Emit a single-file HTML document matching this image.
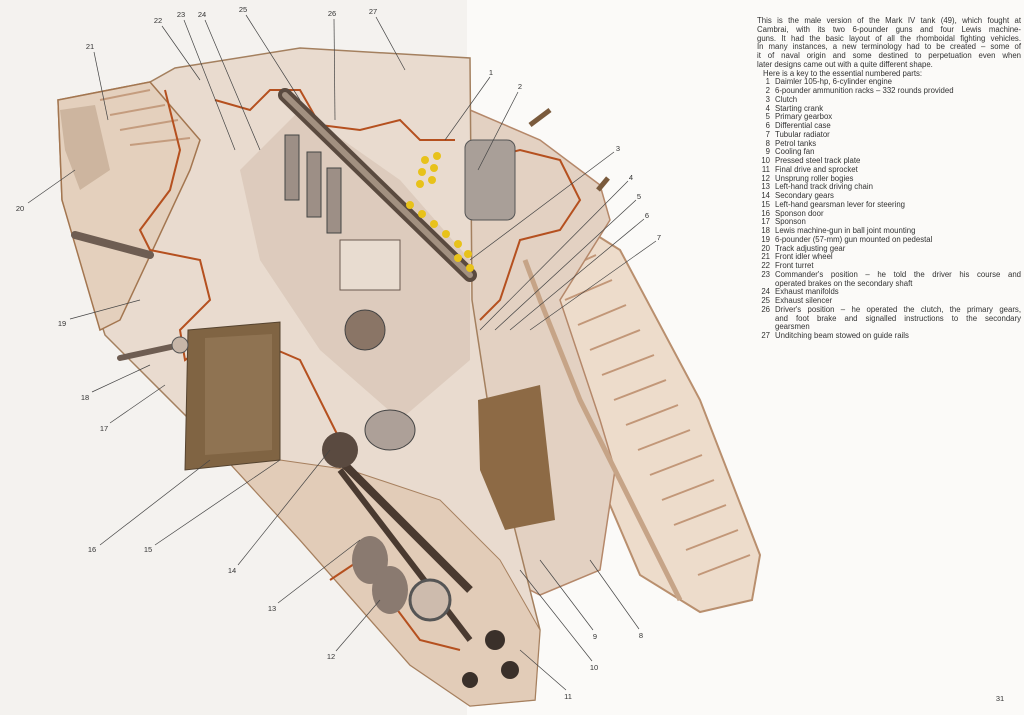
<!DOCTYPE html>
<html><head><meta charset="utf-8"><style>
html,body{margin:0;padding:0;width:1024px;height:715px;overflow:hidden;background:#f7f5f2;}
.page{position:absolute;top:0;width:1024px;height:715px;}
svg{position:absolute;left:0;top:0;}
.txt{position:absolute;left:757px;top:17px;width:264px;font-family:"Liberation Sans",sans-serif;font-size:7.8px;line-height:8.75px;color:#333;white-space:nowrap;}
.j{text-align:justify;text-align-last:justify;}
.k{display:flex;}
.k span:first-child{width:13px;text-align:right;margin-right:5px;flex:none;}
.k span:last-child{flex:1;}
</style></head><body>
<div class="page" style="left:0;width:467px;background:#f4f2ef"></div>
<div class="page" style="left:467px;width:557px;background:#fbfaf8"></div>
<svg width="1024" height="715" viewBox="0 0 1024 715" font-family="Liberation Sans, sans-serif" font-size="7.5" fill="#333">
<polygon points="522,232 560,212 620,250 700,400 760,555 752,600 700,612 640,575 595,470 555,340" fill="#eddccb" stroke="#b98f6e" stroke-width="2"/>
<g stroke="#b07a55" stroke-width="2" opacity=".7">
<line x1="540" y1="250" x2="580" y2="232"/><line x1="552" y1="275" x2="596" y2="255"/><line x1="565" y1="300" x2="612" y2="280"/>
<line x1="578" y1="325" x2="626" y2="305"/><line x1="590" y1="350" x2="640" y2="330"/><line x1="602" y1="375" x2="654" y2="355"/>
<line x1="614" y1="400" x2="666" y2="380"/><line x1="626" y1="425" x2="678" y2="405"/><line x1="638" y1="450" x2="690" y2="430"/>
<line x1="650" y1="475" x2="702" y2="455"/><line x1="662" y1="500" x2="714" y2="480"/><line x1="674" y1="525" x2="726" y2="505"/>
<line x1="686" y1="550" x2="738" y2="530"/><line x1="698" y1="575" x2="750" y2="555"/>
</g>
<polygon points="470,110 540,140 600,185 610,220 560,300 600,420 615,470 600,570 540,595 470,560" fill="#e3d1c2" stroke="#b5886a" stroke-width="1.5"/>
<polygon points="380,70 470,60 470,100 400,100" fill="#d8b89a"/>
<polygon points="58,100 150,82 175,68 300,48 470,58 472,300 495,450 540,630 535,700 470,706 410,665 300,540 190,420 105,335 62,200" fill="#e9dbcf" stroke="#a4805f" stroke-width="1.5"/>
<polygon points="58,100 150,82 200,140 190,170 120,320 100,330 62,200" fill="#e4d0bd" stroke="#a37650" stroke-width="1.5"/>
<polygon points="60,110 95,105 110,170 80,190 65,150" fill="#cdb59f"/>
<g stroke="#b07a55" stroke-width="2" opacity=".6">
<line x1="100" y1="100" x2="150" y2="90"/><line x1="110" y1="115" x2="165" y2="105"/><line x1="120" y1="130" x2="178" y2="120"/><line x1="130" y1="145" x2="190" y2="138"/>
</g>
<polygon points="190,420 300,540 410,665 470,706 535,700 540,630 500,560 440,500 350,470 280,460 200,400" fill="#e2ccb8" stroke="#a7805f" stroke-width="1"/>
<polyline points="165,90 180,150 170,190 140,230 150,250 200,260 210,300 180,330 185,360 230,330 300,360 330,420 350,460" fill="none" stroke="#b5501f" stroke-width="2"/>
<polyline points="215,100 250,110 270,90 300,90 320,125 360,130 400,120 420,140 455,140" fill="none" stroke="#b5501f" stroke-width="2"/>
<polyline points="480,160 520,150 560,160 580,200 560,230 520,240 500,300 480,320" fill="none" stroke="#b5501f" stroke-width="2"/>
<polyline points="330,580 360,560 390,600 420,640 460,650" fill="none" stroke="#b5501f" stroke-width="2"/>
<polygon points="240,170 300,110 400,180 470,260 470,360 400,420 320,350 260,260" fill="#d9c7b8" opacity=".8"/>
<line x1="285" y1="95" x2="470" y2="275" stroke="#5a4a3f" stroke-width="14" stroke-linecap="round"/>
<line x1="285" y1="95" x2="470" y2="275" stroke="#a29080" stroke-width="6" stroke-linecap="round"/>
<rect x="285" y="135" width="14" height="65" fill="#9d8f86" stroke="#444"/>
<rect x="307" y="152" width="14" height="65" fill="#9d8f86" stroke="#444"/>
<rect x="327" y="168" width="14" height="65" fill="#9d8f86" stroke="#444"/>
<rect x="340" y="240" width="60" height="50" fill="#e8dcd0" stroke="#6a5a4f"/>
<circle cx="365" cy="330" r="20" fill="#8a7566" stroke="#444"/>
<rect x="465" y="140" width="50" height="80" rx="8" fill="#a99f98" stroke="#555"/>
<g fill="#e8c21a">
<circle cx="425" cy="160" r="4"/><circle cx="437" cy="156" r="4"/><circle cx="422" cy="172" r="4"/><circle cx="434" cy="168" r="4"/><circle cx="420" cy="184" r="4"/><circle cx="432" cy="180" r="4"/>
<circle cx="410" cy="205" r="4"/><circle cx="422" cy="214" r="4"/><circle cx="434" cy="224" r="4"/><circle cx="446" cy="234" r="4"/><circle cx="458" cy="244" r="4"/><circle cx="468" cy="254" r="4"/><circle cx="458" cy="258" r="4"/><circle cx="470" cy="268" r="4"/>
</g>
<line x1="330" y1="450" x2="470" y2="590" stroke="#4a3a30" stroke-width="8"/>
<line x1="340" y1="470" x2="470" y2="640" stroke="#4a3a30" stroke-width="6"/>
<circle cx="340" cy="450" r="18" fill="#5a4a40"/>
<circle cx="430" cy="600" r="20" fill="#cdbbad" stroke="#555" stroke-width="3"/>
<ellipse cx="390" cy="430" rx="25" ry="20" fill="#ada098" stroke="#444"/>
<ellipse cx="370" cy="560" rx="18" ry="24" fill="#8a7a70"/><ellipse cx="390" cy="590" rx="18" ry="24" fill="#8a7a70"/>
<circle cx="495" cy="640" r="10" fill="#3a302a"/><circle cx="510" cy="670" r="9" fill="#3a302a"/><circle cx="470" cy="680" r="8" fill="#3a302a"/>
<polygon points="188,330 280,322 280,460 185,470" fill="#806443" stroke="#55432f"/>
<polygon points="205,338 272,334 272,450 205,455" fill="#8f7352"/>
<polygon points="478,400 540,385 555,520 505,530 480,470" fill="#8d6a45"/>
<line x1="75" y1="235" x2="150" y2="255" stroke="#6e5d52" stroke-width="8" stroke-linecap="round"/>
<line x1="120" y1="358" x2="180" y2="345" stroke="#6e5d52" stroke-width="6" stroke-linecap="round"/>
<circle cx="180" cy="345" r="8" fill="#c7b6a8" stroke="#555"/>
<line x1="530" y1="125" x2="550" y2="110" stroke="#7a5a3c" stroke-width="5"/>
<line x1="598" y1="190" x2="608" y2="178" stroke="#7a5a3c" stroke-width="5"/>
<polyline points="525,260 540,300 580,400 600,440 650,540 680,600" fill="none" stroke="#c6a487" stroke-width="5"/>
<g stroke="#444" stroke-width=".7" fill="none">
<line x1="94" y1="52" x2="108" y2="120"/><line x1="162" y1="26" x2="200" y2="80"/><line x1="184" y1="20" x2="235" y2="150"/><line x1="205" y1="20" x2="260" y2="150"/>
<line x1="246" y1="15" x2="300" y2="100"/><line x1="334" y1="19" x2="335" y2="120"/><line x1="376" y1="17" x2="405" y2="70"/>
<line x1="490" y1="77" x2="445" y2="140"/><line x1="518" y1="92" x2="478" y2="170"/><line x1="614" y1="152" x2="470" y2="260"/>
<line x1="628" y1="181" x2="480" y2="330"/><line x1="636" y1="200" x2="495" y2="330"/><line x1="644" y1="219" x2="510" y2="330"/><line x1="656" y1="241" x2="530" y2="330"/>
<line x1="28" y1="203" x2="75" y2="170"/><line x1="70" y1="319" x2="140" y2="300"/><line x1="92" y1="392" x2="150" y2="365"/><line x1="110" y1="423" x2="165" y2="385"/>
<line x1="100" y1="545" x2="210" y2="460"/><line x1="155" y1="545" x2="280" y2="460"/><line x1="238" y1="565" x2="330" y2="450"/><line x1="278" y1="603" x2="360" y2="540"/>
<line x1="336" y1="651" x2="380" y2="600"/><line x1="566" y1="690" x2="520" y2="650"/><line x1="592" y1="661" x2="520" y2="570"/><line x1="593" y1="630" x2="540" y2="560"/><line x1="639" y1="629" x2="590" y2="560"/>
</g>
<g text-anchor="middle">
<text x="90" y="49">21</text><text x="158" y="23">22</text><text x="181" y="17">23</text><text x="202" y="17">24</text><text x="243" y="12">25</text><text x="332" y="16">26</text><text x="373" y="14">27</text>
<text x="491" y="75">1</text><text x="520" y="89">2</text><text x="618" y="151">3</text><text x="631" y="180">4</text><text x="639" y="199">5</text><text x="647" y="218">6</text><text x="659" y="240">7</text>
<text x="20" y="211">20</text><text x="62" y="326">19</text><text x="85" y="400">18</text><text x="104" y="431">17</text><text x="92" y="552">16</text><text x="148" y="552">15</text><text x="232" y="573">14</text><text x="272" y="611">13</text><text x="331" y="659">12</text>
<text x="568" y="699">11</text><text x="594" y="670">10</text><text x="595" y="639">9</text><text x="641" y="638">8</text><text x="1000" y="701">31</text>
</g>
</svg>
<div class="txt">
<div class="j">This is the male version of the Mark IV tank (49), which fought at</div>
<div class="j">Cambrai, with its two 6-pounder guns and four Lewis machine-</div>
<div class="j">guns. It had the basic layout of all the rhomboidal fighting vehicles.</div>
<div class="j">In many instances, a new terminology had to be created – some of</div>
<div class="j">it of naval origin and some destined to perpetuation even when</div>
<div>later designs came out with a quite different shape.</div>
<div style="padding-left:6px">Here is a key to the essential numbered parts:</div>
<div class="k"><span>1</span><span>Daimler 105-hp, 6-cylinder engine</span></div>
<div class="k"><span>2</span><span>6-pounder ammunition racks – 332 rounds provided</span></div>
<div class="k"><span>3</span><span>Clutch</span></div>
<div class="k"><span>4</span><span>Starting crank</span></div>
<div class="k"><span>5</span><span>Primary gearbox</span></div>
<div class="k"><span>6</span><span>Differential case</span></div>
<div class="k"><span>7</span><span>Tubular radiator</span></div>
<div class="k"><span>8</span><span>Petrol tanks</span></div>
<div class="k"><span>9</span><span>Cooling fan</span></div>
<div class="k"><span>10</span><span>Pressed steel track plate</span></div>
<div class="k"><span>11</span><span>Final drive and sprocket</span></div>
<div class="k"><span>12</span><span>Unsprung roller bogies</span></div>
<div class="k"><span>13</span><span>Left-hand track driving chain</span></div>
<div class="k"><span>14</span><span>Secondary gears</span></div>
<div class="k"><span>15</span><span>Left-hand gearsman lever for steering</span></div>
<div class="k"><span>16</span><span>Sponson door</span></div>
<div class="k"><span>17</span><span>Sponson</span></div>
<div class="k"><span>18</span><span>Lewis machine-gun in ball joint mounting</span></div>
<div class="k"><span>19</span><span>6-pounder (57-mm) gun mounted on pedestal</span></div>
<div class="k"><span>20</span><span>Track adjusting gear</span></div>
<div class="k"><span>21</span><span>Front idler wheel</span></div>
<div class="k"><span>22</span><span>Front turret</span></div>
<div class="k"><span>23</span><span class="j">Commander's position – he told the driver his course and</span></div>
<div class="k"><span></span><span>operated brakes on the secondary shaft</span></div>
<div class="k"><span>24</span><span>Exhaust manifolds</span></div>
<div class="k"><span>25</span><span>Exhaust silencer</span></div>
<div class="k"><span>26</span><span class="j">Driver's position – he operated the clutch, the primary gears,</span></div>
<div class="k"><span></span><span class="j">and foot brake and signalled instructions to the secondary</span></div>
<div class="k"><span></span><span>gearsmen</span></div>
<div class="k"><span>27</span><span>Unditching beam stowed on guide rails</span></div>
</div>
</body></html>
